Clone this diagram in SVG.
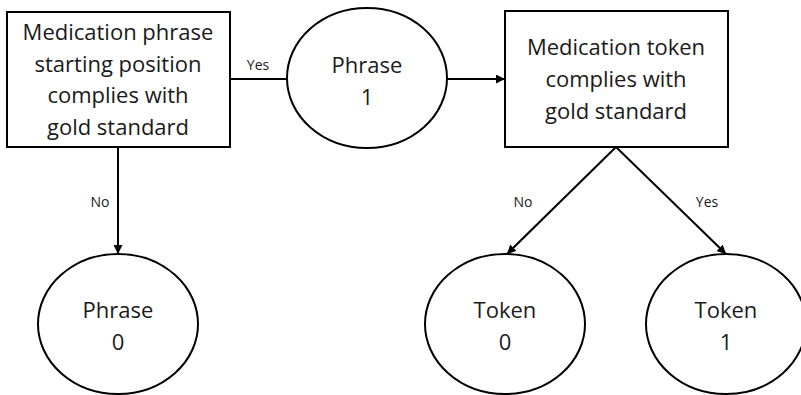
<svg xmlns="http://www.w3.org/2000/svg" width="801" height="395" viewBox="0 0 801 395">
<style>
.box{fill:#fff;stroke:#000;stroke-width:2}
.node text{font-family:"Open Sans","Liberation Sans",sans-serif;font-size:22px;fill:#1a1a1a;text-anchor:middle}
.edge{stroke:#000;stroke-width:2;fill:none}
.lbl{font-family:"Open Sans","Liberation Sans",sans-serif;font-size:14px;fill:#1a1a1a;text-anchor:middle}
</style>
<defs>
<marker id="ah" viewBox="0 0 10 10" refX="10" refY="5" markerWidth="4.5" markerHeight="4.5" orient="auto" markerUnits="strokeWidth">
<path d="M0,0 L10,5 L0,10 z" fill="#000"/>
</marker>
</defs>
<rect width="801" height="395" fill="#fff"/>
<g id="connectors">
<line class="edge" x1="230" y1="79" x2="288" y2="79"/>
<line class="edge" x1="447" y1="79" x2="505" y2="79" marker-end="url(#ah)"/>
<line class="edge" x1="118" y1="147" x2="118" y2="254" marker-end="url(#ah)"/>
<line class="edge" x1="616" y1="147" x2="507" y2="254" marker-end="url(#ah)"/>
<line class="edge" x1="616" y1="147" x2="726" y2="254" marker-end="url(#ah)"/>
<text class="lbl" x="258" y="70">Yes</text>
<text class="lbl" x="100" y="207">No</text>
<text class="lbl" x="523" y="207">No</text>
<text class="lbl" x="707" y="207">Yes</text>
</g>
<g id="n1" class="node">
<rect class="box" x="7" y="12" width="223" height="135"/>
<text x="118" y="40">Medication phrase</text>
<text x="118" y="72">starting position</text>
<text x="118" y="103">complies with</text>
<text x="118" y="135">gold standard</text>
</g>
<g id="n2" class="node">
<ellipse class="box" cx="367" cy="78" rx="80" ry="70"/>
<text x="367" y="73">Phrase</text>
<text x="367" y="105">1</text>
</g>
<g id="n3" class="node">
<rect class="box" x="505" y="11" width="223" height="136"/>
<text x="616" y="55">Medication token</text>
<text x="616" y="87">complies with</text>
<text x="616" y="119">gold standard</text>
</g>
<g id="n4" class="node">
<ellipse class="box" cx="118" cy="324" rx="80" ry="70"/>
<text x="118" y="318">Phrase</text>
<text x="118" y="350">0</text>
</g>
<g id="n5" class="node">
<ellipse class="box" cx="505" cy="324" rx="80" ry="70"/>
<text x="505" y="318">Token</text>
<text x="505" y="350">0</text>
</g>
<g id="n6" class="node">
<ellipse class="box" cx="726" cy="324" rx="80" ry="70"/>
<text x="726" y="318">Token</text>
<text x="726" y="350">1</text>
</g>
</svg>
